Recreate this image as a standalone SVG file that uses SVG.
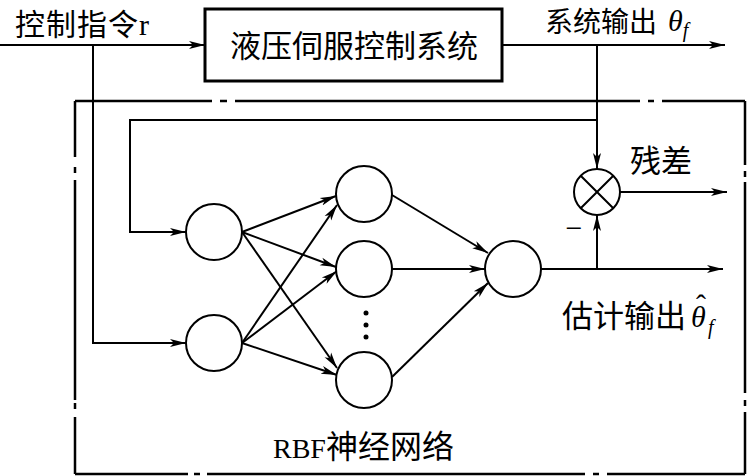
<svg xmlns="http://www.w3.org/2000/svg" width="748" height="476" viewBox="0 0 748 476">
<style>
.ln{fill:none;stroke:#000;stroke-width:2}
.ar{marker-end:url(#ah)}
.bd{fill:none;stroke:#000;stroke-width:2.5}
.nd{fill:#fff;stroke:#000;stroke-width:2}
.tx{font-family:"Liberation Serif","Noto Sans CJK SC",serif;fill:#000}
.cj{font-family:"Noto Sans CJK SC","Liberation Serif",sans-serif}
.it{font-family:"Liberation Serif",serif;font-style:italic}
</style>
<defs>
<marker id="ah" markerUnits="userSpaceOnUse" markerWidth="18" markerHeight="10" viewBox="0 -5 18 10" refX="16" refY="0" orient="auto">
<path d="M0,-4 L16,0 L0,4 L4,0 z" fill="#000"/>
</marker>
</defs>
<rect width="748" height="476" fill="#fff"/>

<g id="rbf-border">
<path class="bd" d="M75,101 H212 M235,101 H640 M662,101 H745 M220,101 H227 M648,101 H654"/>
<path class="bd" d="M75,101 V157 M75,180 V400 M75,417 V474 M75,167 V173 M75,403 V409"/>
<path class="bd" d="M745,101 V165 M745,182 V393 M745,412 V474 M745,171 V177 M745,400 V406"/>
<path class="bd" d="M75,474 H188 M207,474 H585 M607,474 H745 M194,474 H200 M593,474 H599"/>
<text class="tx" x="273" y="458" font-size="28">RBF<tspan class="cj" font-size="32">神经网络</tspan></text>
</g>

<g id="connectors">
<path class="ln ar" d="M0,45 H205"/>
<path class="ln ar" d="M93,45 V343 H186"/>
<path class="ln ar" d="M502,45 H725"/>
<path class="ln ar" d="M597,45 V169"/>
<path class="ln ar" d="M597,120 H130 V232 H186"/>
<path class="ln ar" d="M242,232 L336,196"/>
<path class="ln ar" d="M242,232 L336,267"/>
<path class="ln ar" d="M242,232 L337,368"/>
<path class="ln ar" d="M242,343 L337,205"/>
<path class="ln ar" d="M242,343 L337,271"/>
<path class="ln ar" d="M242,343 L337,375"/>
<path class="ln ar" d="M392,195 L488,253"/>
<path class="ln ar" d="M392,269 L485,269"/>
<path class="ln ar" d="M392,377 L488,283"/>
<path class="ln ar" d="M541,269 H723"/>
<path class="ln ar" d="M597,269 V215"/>
<path class="ln ar" d="M620,192 H727"/>
</g>

<g id="plant">
<rect x="205" y="9" width="297" height="72" fill="#fff" stroke="#000" stroke-width="3"/>
<text class="tx cj" x="354" y="57" font-size="31" text-anchor="middle">液压伺服控制系统</text>
</g>

<g id="input-label">
<text class="tx" x="15" y="35" font-size="30"><tspan class="cj" letter-spacing="1">控制指令</tspan>r</text>
</g>

<g id="output-label">
<text class="tx cj" x="545" y="32" font-size="28">系统输出</text>
<text class="tx it" x="668" y="31" font-size="30">θ<tspan font-size="20" dy="6">f</tspan></text>
</g>

<g id="in1"><circle class="nd" cx="214" cy="232" r="28"/></g>
<g id="in2"><circle class="nd" cx="214" cy="343" r="28"/></g>
<g id="h1"><circle class="nd" cx="364" cy="194" r="28"/></g>
<g id="h2"><circle class="nd" cx="364" cy="269" r="28"/></g>
<g id="h3"><circle class="nd" cx="364" cy="380" r="28"/></g>
<g id="dots">
<circle cx="366" cy="313" r="2.5" fill="#000"/>
<circle cx="366" cy="325" r="2.5" fill="#000"/>
<circle cx="366" cy="337" r="2.5" fill="#000"/>
</g>
<g id="out"><circle class="nd" cx="513" cy="269" r="28"/></g>

<g id="sum">
<circle class="nd" cx="597" cy="192" r="23"/>
<path class="ln" d="M580.7,175.7 L613.3,208.3 M613.3,175.7 L580.7,208.3"/>
<text class="tx" x="574" y="238" font-size="30" text-anchor="middle">−</text>
</g>

<g id="residual-label">
<text class="tx cj" x="630" y="172" font-size="31">残差</text>
</g>

<g id="estimate-label">
<text class="tx cj" x="562" y="327" font-size="31">估计输出</text>
<text class="tx it" x="691" y="327" font-size="30">θ<tspan x="696" y="315" font-style="normal">ˆ</tspan><tspan x="708" y="334" font-size="20">f</tspan></text>
</g>
</svg>
